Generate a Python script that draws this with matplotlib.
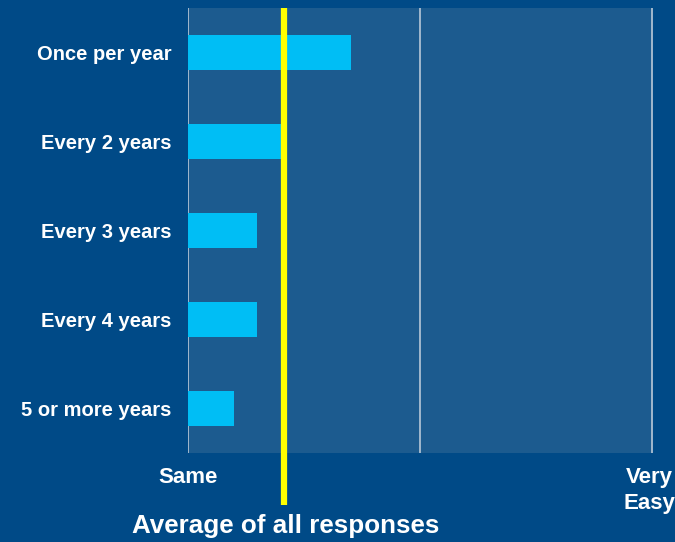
import numpy as np
import matplotlib.pyplot as plt
import matplotlib.transforms as mtransforms

plt.rcParams['font.family'] = ['Liberation Sans', 'DejaVu Sans']

categories = ['Once per year', 'Every 2 years', 'Every 3 years', 'Every 4 years', '5 or more years']
values = [0.351, 0.203, 0.149, 0.149, 0.099]
average = 0.207
tick_pos = [0, 0.5, 1]
tick_labels = ['Same', '', 'Very\nEasy']

bg = '#004a87'
panel = '#1c5b8f'

fig = plt.figure(figsize=(6.75, 5.42), dpi=100, facecolor=bg)
ax = fig.add_axes([188/675, 89/542, 465/675, 445/542])
ax.set_facecolor(panel)

y = np.arange(len(categories))
ax.barh(y, values, height=0.4, color='#00bef5', zorder=3)
ax.set_ylim(len(categories) - 0.5, -0.5)
ax.set_xlim(0, 1.002)

for x in tick_pos:
    ax.axvline(x, color='#b8c8d8', lw=1.2, zorder=1)

# yellow average line runs down past the axis
ax.plot([average, average], [-0.5, 5.08], color='#ffff00', lw=4.5, zorder=4,
        clip_on=False, solid_capstyle='butt')

ax.set_yticks(y)
ax.set_yticklabels(categories, color='white', fontsize=14.5, fontweight='bold')
ax.set_xticks(tick_pos)
ax.set_xticklabels(tick_labels, color='white', fontsize=16, fontweight='bold',
                   linespacing=1.35)
ax.tick_params(axis='x', length=0, pad=10)
ax.tick_params(axis='y', length=0, pad=12)
for s in ax.spines.values():
    s.set_visible(False)

# nudge the last label a little so it stays inside the figure
lab = ax.get_xticklabels()[-1]
lab.set_transform(lab.get_transform() +
                  mtransforms.ScaledTranslation(-3/100, 0, fig.dpi_scale_trans))

fig.text(286/675, 1 - 526/542, 'Average of all responses', color='white',
         fontsize=18.7, fontweight='bold', ha='center', va='center')

fig.savefig('out.png', dpi=100, facecolor=bg)
